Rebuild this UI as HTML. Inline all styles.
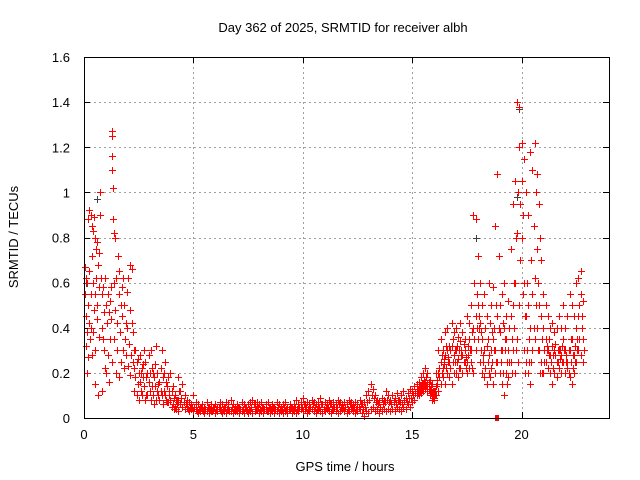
<!DOCTYPE html>
<html><head><meta charset="utf-8"><style>
body{margin:0;background:#fff;}
svg{display:block;font-family:"Liberation Sans",sans-serif;}
</style></head><body>
<svg id="chart" width="640" height="480" viewBox="0 0 640 480">
<rect x="0" y="0" width="640" height="480" fill="#fff"/>
<text x="343" y="32" font-size="13" text-anchor="middle" fill="#000">Day 362 of 2025, SRMTID for receiver albh</text>
<text x="345" y="471" font-size="13" text-anchor="middle" fill="#000">GPS time / hours</text>
<text x="18" y="237" font-size="13" text-anchor="middle" fill="#000" transform="rotate(-90 18 237)">SRMTID / TECUs</text>
<g id="grid"></g>
<g id="ticks"></g>
<g id="marks"></g>
<rect x="84.5" y="57.5" width="525" height="361" fill="none" stroke="#000" stroke-width="1"/>
</svg>
<script>
const xTicks=[0,5,10,15,20];
const yTicks=[0,0.2,0.4,0.6,0.8,1,1.2,1.4,1.6];
const yTickLabels=["0","0.2","0.4","0.6","0.8","1","1.2","1.4","1.6"];
const earlyX=[0.05,0.05,0.08,0.1,0.1,0.12,0.15,0.15,0.18,0.2,0.2,0.22,0.25,0.25,0.28,0.3,0.3,0.32,0.35,0.35,0.38,0.4,0.4,0.42,0.45,0.45,0.48,0.5,0.5,0.52,0.55,0.55,0.58,0.6,0.6,0.62,0.65,0.68,0.7,0.7,0.72,0.75,0.78,0.8,0.8,0.82,0.85,0.88,0.9,0.92,0.95,0.98,
1.0,1.02,1.05,1.08,1.1,1.12,1.15,1.18,1.2,1.22,1.25,1.28,1.3,1.3,1.3,1.3,1.32,1.32,1.35,1.35,1.38,1.4,1.42,1.45,1.48,1.5,1.52,1.55,1.58,1.6,1.62,1.65,1.68,1.7,1.72,1.75,1.78,1.8,1.82,1.85,1.88,1.9,1.92,1.95,1.98,2.0,2.02,2.05,2.08,2.1,2.12,2.15,2.18,2.2,2.22,2.25,2.28];
const earlyY=[0.67,0.55,0.32,0.62,0.45,0.2,0.6,0.38,0.27,0.88,0.5,0.42,0.92,0.65,0.35,0.9,0.55,0.4,0.85,0.72,0.28,0.83,0.6,0.38,0.89,0.48,0.15,0.8,0.55,0.3,0.75,0.62,0.44,0.78,0.5,0.1,0.68,0.58,0.73,0.36,0.9,1.0,0.62,0.55,0.4,0.12,0.35,0.58,0.3,0.47,0.22,0.62,
0.5,0.2,0.42,0.55,0.28,0.47,0.16,0.52,0.35,0.58,0.44,0.25,1.27,1.25,1.16,1.1,1.02,0.88,0.6,0.82,0.35,0.48,0.8,0.2,0.62,0.42,0.3,0.72,0.55,0.18,0.65,0.38,0.5,0.25,0.58,0.45,0.3,0.62,0.22,0.5,0.35,0.42,0.28,0.56,0.4,0.23,0.62,0.33,0.48,0.19,0.68,0.28,0.42,0.66,0.25,0.38,0.3];
const midStart=2.3, midStep=0.05;
const midA=[0.22,0.18,0.25,0.15,0.2,0.28,0.12,0.22,0.18,0.14,0.25,0.1,0.2,0.16,0.12,0.3,0.22,0.1,0.18,0.14,0.08,0.12,0.1,0.16,0.22,0.3,0.18,0.12,0.1,0.08,0.14,0.07,0.1,0.08,0.12,0.06,0.09,0.05,0.08,0.06,0.07];
const midB=[0.12,0.3,0.1,0.26,0.08,0.16,0.2,0.1,0.24,0.3,0.08,0.18,0.1,0.28,0.2,0.08,0.14,0.2,0.06,0.24,0.32,0.2,0.15,0.08,0.12,0.1,0.06,0.2,0.25,0.16,0.07,0.18,0.12,0.2,0.05,0.14,0.04,0.1,0.04,0.08,0.03];
const baseStart=4.3, baseStep=0.1;
const baseA=[0.08,0.06,0.05,0.04,0.05,0.03,0.04,
0.03,0.04,0.02,0.03,0.04,0.02,0.03,0.02,0.03,0.04,
0.02,0.03,0.04,0.02,0.03,0.02,0.04,0.03,0.02,0.03,
0.03,0.02,0.03,0.02,0.04,0.02,0.03,0.02,0.03,0.04,
0.02,0.03,0.02,0.04,0.03,0.02,0.03,0.02,0.03,0.02,
0.03,0.02,0.03,0.02,0.04,0.02,0.03,0.02,0.03,0.04,
0.03,0.04,0.02,0.03,0.04,0.03,0.02,0.04,0.03,0.02,
0.03,0.04,0.03,0.02,0.04,0.03,0.02,0.03,0.04,0.03,
0.02,0.03,0.04,0.03,0.02,0.03,0.04,0.02,0.01,0.03,
0.02,0.04,0.05,0.03,0.04,0.02,0.03,0.04,0.03,0.04,
0.03,0.04,0.03,0.05,0.04,0.03,0.05,0.04,0.06,0.05,
0.07,0.08,0.1];
const baseB=[0.18,0.12,0.15,0.1,0.08,0.07,0.06,
0.1,0.07,0.06,0.05,0.06,0.05,0.07,0.05,0.06,0.05,
0.06,0.05,0.07,0.06,0.05,0.07,0.06,0.08,0.06,0.05,
0.06,0.05,0.07,0.06,0.05,0.06,0.07,0.08,0.06,0.07,
0.06,0.07,0.05,0.06,0.07,0.05,0.06,0.05,0.07,0.06,
0.05,0.06,0.07,0.05,0.06,0.05,0.06,0.08,0.06,0.07,
0.09,0.06,0.07,0.06,0.08,0.07,0.06,0.07,0.09,0.06,
0.07,0.06,0.08,0.06,0.07,0.06,0.08,0.07,0.06,0.07,
0.06,0.08,0.07,0.06,0.07,0.06,0.08,0.06,0.07,0.1,
0.12,0.15,0.13,0.1,0.08,0.07,0.09,0.08,0.12,0.1,
0.08,0.1,0.09,0.11,0.08,0.1,0.12,0.09,0.11,0.13,
0.12,0.14,0.13];
const baseCStart=4.35;
const baseC=[0.12,0.09,0.07,0.06,0.04,0.05,0.05,
0.05,0.03,0.04,0.05,0.03,0.04,0.05,0.04,0.03,0.05,
0.04,0.05,0.03,0.04,0.05,0.04,0.03,0.05,0.04,0.04,
0.05,0.04,0.04,0.05,0.03,0.04,0.05,0.06,0.04,0.05,
0.04,0.05,0.04,0.03,0.05,0.04,0.05,0.04,0.05,0.04,
0.04,0.05,0.04,0.04,0.05,0.04,0.05,0.04,0.05,0.05,
0.06,0.05,0.04,0.05,0.06,0.05,0.04,0.05,0.06,0.04,
0.05,0.05,0.06,0.04,0.05,0.05,0.06,0.05,0.05,0.05,
0.04,0.06,0.05,0.05,0.04,0.05,0.06,0.04,0.05,0.07,
0.08,0.1,0.09,0.07,0.06,0.05,0.06,0.07,0.08,0.07,
0.06,0.07,0.06,0.08,0.07,0.06,0.08,0.07,0.09,0.09,
0.1,0.11,0.12];
const lateStart=15.2, lateStep=0.1;
const lateA=[0.12,0.13,0.14,0.15,0.16,0.15,0.13,0.11,
0.09,0.14,0.2,0.25,0.22,0.28,0.3,0.25,0.32,0.28,
0.3,0.26,0.34,0.28,0.3,0.25,0.35,0.3,0.4,0.45,
0.5,0.42,0.35,0.3,0.32,0.28,0.3,0.35,0.3,0.45,
0.38,0.3,0.4,0.35,0.3,0.45,0.5,0.6,0.82,1.2,
1.05,0.6,0.45,0.5,0.4,0.55,0.62,0.75,0.5,0.45,
0.4,0.35,0.3,0.28,0.32,0.3,0.25,0.3,0.28,0.35,
0.3,0.25,0.3,0.35,0.28,0.4,0.45,0.55,0.35];
const lateB=[0.15,0.16,0.18,0.2,0.22,0.2,0.17,0.15,
0.12,0.2,0.3,0.35,0.3,0.38,0.4,0.32,0.42,0.38,
0.4,0.36,0.42,0.38,0.35,0.45,0.42,0.5,0.9,0.88,
0.72,0.6,0.5,0.55,0.45,0.6,0.5,0.58,0.85,1.08,
0.5,0.55,0.6,0.45,0.52,0.75,0.95,1.05,1.4,1.38,
1.22,1.15,1.0,0.9,1.18,1.1,1.22,1.08,0.95,0.7,
0.55,0.5,0.45,0.4,0.42,0.38,0.4,0.45,0.4,0.5,
0.4,0.45,0.55,0.5,0.45,0.6,0.62,0.65,0.52];
const lateC=[0.1,0.1,0.11,0.12,0.13,0.12,0.1,0.08,
0.08,0.1,0.12,0.15,0.18,0.15,0.2,0.18,0.15,0.2,
0.2,0.18,0.22,0.2,0.25,0.2,0.22,0.25,0.2,0.3,
0.35,0.25,0.2,0.18,0.15,0.2,0.22,0.15,0.2,0.25,
0.2,0.15,0.1,0.2,0.18,0.25,0.3,0.2,0.35,0.5,
0.8,0.3,0.25,0.2,0.15,0.3,0.35,0.4,0.3,0.25,
0.2,0.25,0.22,0.2,0.15,0.2,0.18,0.22,0.2,0.25,
0.2,0.22,0.18,0.15,0.2,0.25,0.3,0.28,0.25];
const lateDStart=15.25;
const lateD=[0.13,0.14,0.15,0.17,0.18,0.16,0.14,0.12,
0.1,0.17,0.22,0.28,0.26,0.32,0.27,0.3,0.35,0.25,
0.32,0.3,0.28,0.33,0.27,0.32,0.3,0.38,0.6,0.55,
0.45,0.38,0.28,0.4,0.35,0.42,0.38,0.4,0.5,0.72,
0.3,0.42,0.35,0.25,0.4,0.35,0.6,0.8,1.0,0.95,
0.9,0.45,0.6,0.35,0.7,0.85,1.0,0.6,0.8,0.35,
0.3,0.32,0.35,0.25,0.28,0.33,0.3,0.26,0.32,0.3,
0.25,0.3,0.35,0.28,0.32,0.35,0.5,0.45,0.3];
const lateE=[0.11,0.12,0.13,0.14,0.14,0.13,0.11,0.09,
0.12,0.15,0.18,0.2,0.24,0.22,0.25,0.22,0.25,0.3,
0.25,0.22,0.3,0.25,0.22,0.28,0.3,0.22,0.35,0.4,
0.4,0.3,0.25,0.22,0.25,0.18,0.25,0.3,0.25,0.4,
0.25,0.2,0.3,0.15,0.25,0.2,0.4,0.3,0.25,0.7,
0.55,0.2,0.3,0.25,0.25,0.4,0.5,0.3,0.2,0.2,
0.25,0.3,0.28,0.25,0.22,0.28,0.25,0.3,0.25,0.3,
0.28,0.2,0.25,0.22,0.25,0.3,0.35,0.4,0.3];
const grayX=[0.1,0.6,0.75,1.3,19.8,19.9,22.6,17.9];
const grayY=[0.6,0.97,1.0,1.16,0.98,1.37,0.62,0.8];
const outlierX=[18.9];
const outlierY=[0];

const L=84,T=57,R=609,B=418,XMAX=24,YMAX=1.6;
function xs(t){return L+t*(R-L)/XMAX;}
function ys(v){return B-v*(B-T)/YMAX;}
const NS="http://www.w3.org/2000/svg";
const grid=document.getElementById('grid'),ticks=document.getElementById('ticks'),marks=document.getElementById('marks');
function mk(tag,attrs,parent){const e=document.createElementNS(NS,tag);for(const k in attrs)e.setAttribute(k,attrs[k]);parent.appendChild(e);return e;}
xTicks.forEach(t=>{
  const x=Math.round(xs(t))+0.5;
  if(t>0){const g=mk('line',{x1:x,y1:T,x2:x,y2:B,stroke:'#a0a0a0','stroke-dasharray':'2,3'},grid);
  
  }
  const a=mk('line',{x1:x,y1:B,x2:x,y2:B-6,stroke:'#000'},ticks);
  
  
  const b=mk('line',{x1:x,y1:T,x2:x,y2:T+6,stroke:'#000'},ticks);
  
  
  const l=mk('text',{x:xs(t),y:B+21,'font-size':13,'text-anchor':'middle',fill:'#000'},ticks);
  l.textContent=String(t);
  
  
});
yTicks.forEach((v,i)=>{
  const y=Math.round(ys(v))+0.5;
  if(v>0&&v<YMAX){const g=mk('line',{x1:L,y1:y,x2:R,y2:y,stroke:'#a0a0a0','stroke-dasharray':'2,3'},grid);
  
  }
  const a=mk('line',{x1:L,y1:y,x2:L+6,y2:y,stroke:'#000'},ticks);
  
  
  const b=mk('line',{x1:R,y1:y,x2:R-6,y2:y,stroke:'#000'},ticks);
  
  
  const l=mk('text',{x:L-14,y:ys(v)+5,'font-size':13,'text-anchor':'end',fill:'#000'},ticks);
  l.textContent=yTickLabels[i];
  
  
});
function plus(t,v,color){
  const x=Math.round(xs(t))+0.5,y=Math.round(ys(v))+0.5;
  const p=mk('path',{d:`M${x-3.5} ${y}h7M${x} ${y-3.5}v7`,stroke:color,'stroke-width':1,fill:'none'},marks);
  
  
}
grayX.forEach((t,i)=>plus(t,grayY[i],'#404040'));
earlyX.forEach((t,i)=>plus(t,earlyY[i],'#f00'));
midA.forEach((v,i)=>plus(midStart+i*midStep,v,'#f00'));
midB.forEach((v,i)=>plus(midStart+i*midStep,v,'#f00'));
baseA.forEach((v,i)=>plus(baseStart+i*baseStep,v,'#f00'));
baseB.forEach((v,i)=>plus(baseStart+i*baseStep,v,'#f00'));
baseC.forEach((v,i)=>plus(baseCStart+i*baseStep,v,'#f00'));
lateA.forEach((v,i)=>plus(lateStart+i*lateStep,v,'#f00'));
lateB.forEach((v,i)=>plus(lateStart+i*lateStep,v,'#f00'));
lateC.forEach((v,i)=>plus(lateStart+i*lateStep,v,'#f00'));
lateD.forEach((v,i)=>plus(lateDStart+i*lateStep,v,'#f00'));
lateE.forEach((v,i)=>plus(lateDStart+i*lateStep,v,'#f00'));
outlierX.forEach((t,i)=>{
  const r=mk('rect',{x:Math.round(xs(t))-2,y:ys(outlierY[i])-3,width:4,height:6,fill:'#f00'},marks);
  
  
});
</script>
</body></html>
